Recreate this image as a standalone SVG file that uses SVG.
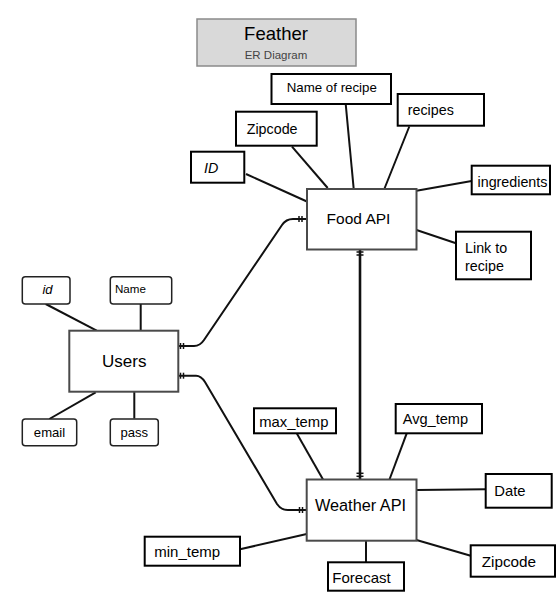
<svg xmlns="http://www.w3.org/2000/svg" width="560" height="607" viewBox="0 0 560 607">
<style>
text{font-family:"Liberation Sans",Arial,sans-serif;fill:#000}
.ent{fill:#fff;stroke:#4a4a4a;stroke-width:2}
.att{fill:#fff;stroke:#000;stroke-width:2}
.uatt{fill:#fff;stroke:#222;stroke-width:1.5}
.ln{fill:none;stroke:#111;stroke-width:2}
.mk{fill:none;stroke:#111;stroke-width:1.5}
</style>
<rect width="560" height="607" fill="#fff"/>
<g id="title">
<rect x="197" y="19" width="159" height="47" fill="#d9d9d9" stroke="#8a8a8a" stroke-width="1.5"/>
<text x="276" y="40" font-size="18.5" text-anchor="middle">Feather</text>
<text x="276" y="59" font-size="11.5" text-anchor="middle" style="fill:#444">ER Diagram</text>
</g>
<g id="connectors">
<line class="ln" x1="246" y1="174" x2="308" y2="202"/>
<line class="ln" x1="292" y1="146.7" x2="327.7" y2="188"/>
<line class="ln" x1="345.7" y1="104" x2="353.7" y2="189"/>
<line class="ln" x1="409.3" y1="126.5" x2="384.3" y2="189"/>
<line class="ln" x1="416.5" y1="190.7" x2="471.7" y2="181"/>
<line class="ln" x1="416.5" y1="230" x2="456" y2="243.3"/>
<line class="ln" x1="45.7" y1="304" x2="96.7" y2="330.7"/>
<line class="ln" x1="140.7" y1="304" x2="140.7" y2="330.7"/>
<line class="ln" x1="49.3" y1="419" x2="95.7" y2="392.3"/>
<line class="ln" x1="134.3" y1="392" x2="134.3" y2="418.5"/>
<line class="ln" x1="296.7" y1="433.3" x2="323.3" y2="480"/>
<line class="ln" x1="406.7" y1="433.3" x2="389.3" y2="480"/>
<line class="ln" x1="416.5" y1="490" x2="485.7" y2="489.3"/>
<line class="ln" x1="240" y1="549.3" x2="306.7" y2="534"/>
<line class="ln" x1="366" y1="541" x2="366" y2="562.3"/>
<line class="ln" x1="416.5" y1="540" x2="470.7" y2="555.7"/>
<path class="ln" d="M178,346 H194 Q200,346 204,340 L282,225 Q286,219 293,219 H307"/>
<line class="mk" x1="180.5" y1="343" x2="180.5" y2="349"/>
<line class="mk" x1="183.5" y1="343" x2="183.5" y2="349"/>
<line class="mk" x1="299" y1="216" x2="299" y2="222"/>
<line class="mk" x1="302" y1="216" x2="302" y2="222"/>
<path class="ln" d="M178,375.7 H196 Q201,375.7 205,382 L277,504 Q281,510 288,510 H307"/>
<line class="mk" x1="180.5" y1="372.7" x2="180.5" y2="378.7"/>
<line class="mk" x1="183.5" y1="372.7" x2="183.5" y2="378.7"/>
<line class="mk" x1="299.5" y1="507" x2="299.5" y2="513"/>
<line class="mk" x1="302.5" y1="507" x2="302.5" y2="513"/>
<line x1="360" y1="249.5" x2="360" y2="479.5" stroke="#111" stroke-width="2.6"/>
<line class="mk" x1="356.5" y1="252" x2="363.5" y2="252"/>
<line class="mk" x1="356.5" y1="255" x2="363.5" y2="255"/>
<line class="mk" x1="356.5" y1="473.3" x2="363.5" y2="473.3"/>
<line class="mk" x1="356.5" y1="476.3" x2="363.5" y2="476.3"/>
</g>
<g id="food-api">
<rect class="ent" x="307" y="189" width="109.5" height="60.5"/>
<text x="358.5" y="224" font-size="15.5" text-anchor="middle">Food API</text>
</g>
<g id="name-of-recipe">
<rect class="att" x="271.5" y="74" width="119.5" height="30"/>
<text x="286.7" y="92" font-size="13.3">Name of recipe</text>
</g>
<g id="recipes">
<rect class="att" x="397.7" y="94" width="86.3" height="31.7"/>
<text x="407.7" y="115" font-size="14.3">recipes</text>
</g>
<g id="zipcode-food">
<rect class="att" x="236" y="111.7" width="80.7" height="34"/>
<text x="246.7" y="133.5" font-size="14.3">Zipcode</text>
</g>
<g id="id-food">
<rect class="att" x="191" y="151.7" width="53.3" height="31"/>
<text x="204" y="173" font-size="14.3" font-style="italic">ID</text>
</g>
<g id="ingredients">
<rect class="att" x="471.7" y="165.7" width="78.3" height="28.6"/>
<text x="477.5" y="187" font-size="14.3">ingredients</text>
</g>
<g id="link-to-recipe">
<rect class="att" x="456" y="231.7" width="75" height="47.6"/>
<text x="465" y="253" font-size="14.3">Link to</text>
<text x="465" y="271" font-size="14.3">recipe</text>
</g>
<g id="users">
<rect class="ent" x="69.3" y="330.7" width="109" height="61"/>
<text x="124.3" y="366.5" font-size="17" text-anchor="middle">Users</text>
</g>
<g id="id-user">
<rect class="uatt" x="22.3" y="276.7" width="47.7" height="27.3" rx="3"/>
<text x="47.5" y="293.5" font-size="13" font-style="italic" text-anchor="middle">id</text>
</g>
<g id="name-user">
<rect class="uatt" x="110.3" y="276.7" width="61.4" height="27.3" rx="3"/>
<text x="115" y="292.5" font-size="11.6">Name</text>
</g>
<g id="email">
<rect class="uatt" x="22.3" y="419" width="54.4" height="26.7" rx="3"/>
<text x="49.5" y="437" font-size="13.1" text-anchor="middle">email</text>
</g>
<g id="pass">
<rect class="uatt" x="110.3" y="419" width="48" height="26.7" rx="3"/>
<text x="134.3" y="437" font-size="13.1" text-anchor="middle">pass</text>
</g>
<g id="weather-api">
<rect class="ent" x="306.7" y="479.5" width="109.8" height="61.2"/>
<text x="360.5" y="510.7" font-size="16.3" text-anchor="middle">Weather API</text>
</g>
<g id="max-temp">
<rect class="att" x="254" y="408.3" width="82" height="25"/>
<text x="259.3" y="426.7" font-size="14.8">max_temp</text>
</g>
<g id="avg-temp">
<rect class="att" x="395.7" y="404" width="86.3" height="29.3"/>
<text x="402.7" y="424.3" font-size="14.6">Avg_temp</text>
</g>
<g id="date">
<rect class="att" x="485.7" y="474" width="66" height="33.7"/>
<text x="494.3" y="496" font-size="14.8">Date</text>
</g>
<g id="min-temp">
<rect class="att" x="144.7" y="536.7" width="95.3" height="29"/>
<text x="154.3" y="557.3" font-size="15">min_temp</text>
</g>
<g id="forecast">
<rect class="att" x="328" y="562.3" width="76" height="28.4"/>
<text x="332.3" y="583.3" font-size="15">Forecast</text>
</g>
<g id="zipcode-weather">
<rect class="att" x="470.7" y="545.3" width="84.3" height="31.4"/>
<text x="481.7" y="566.7" font-size="15.3">Zipcode</text>
</g>
</svg>
